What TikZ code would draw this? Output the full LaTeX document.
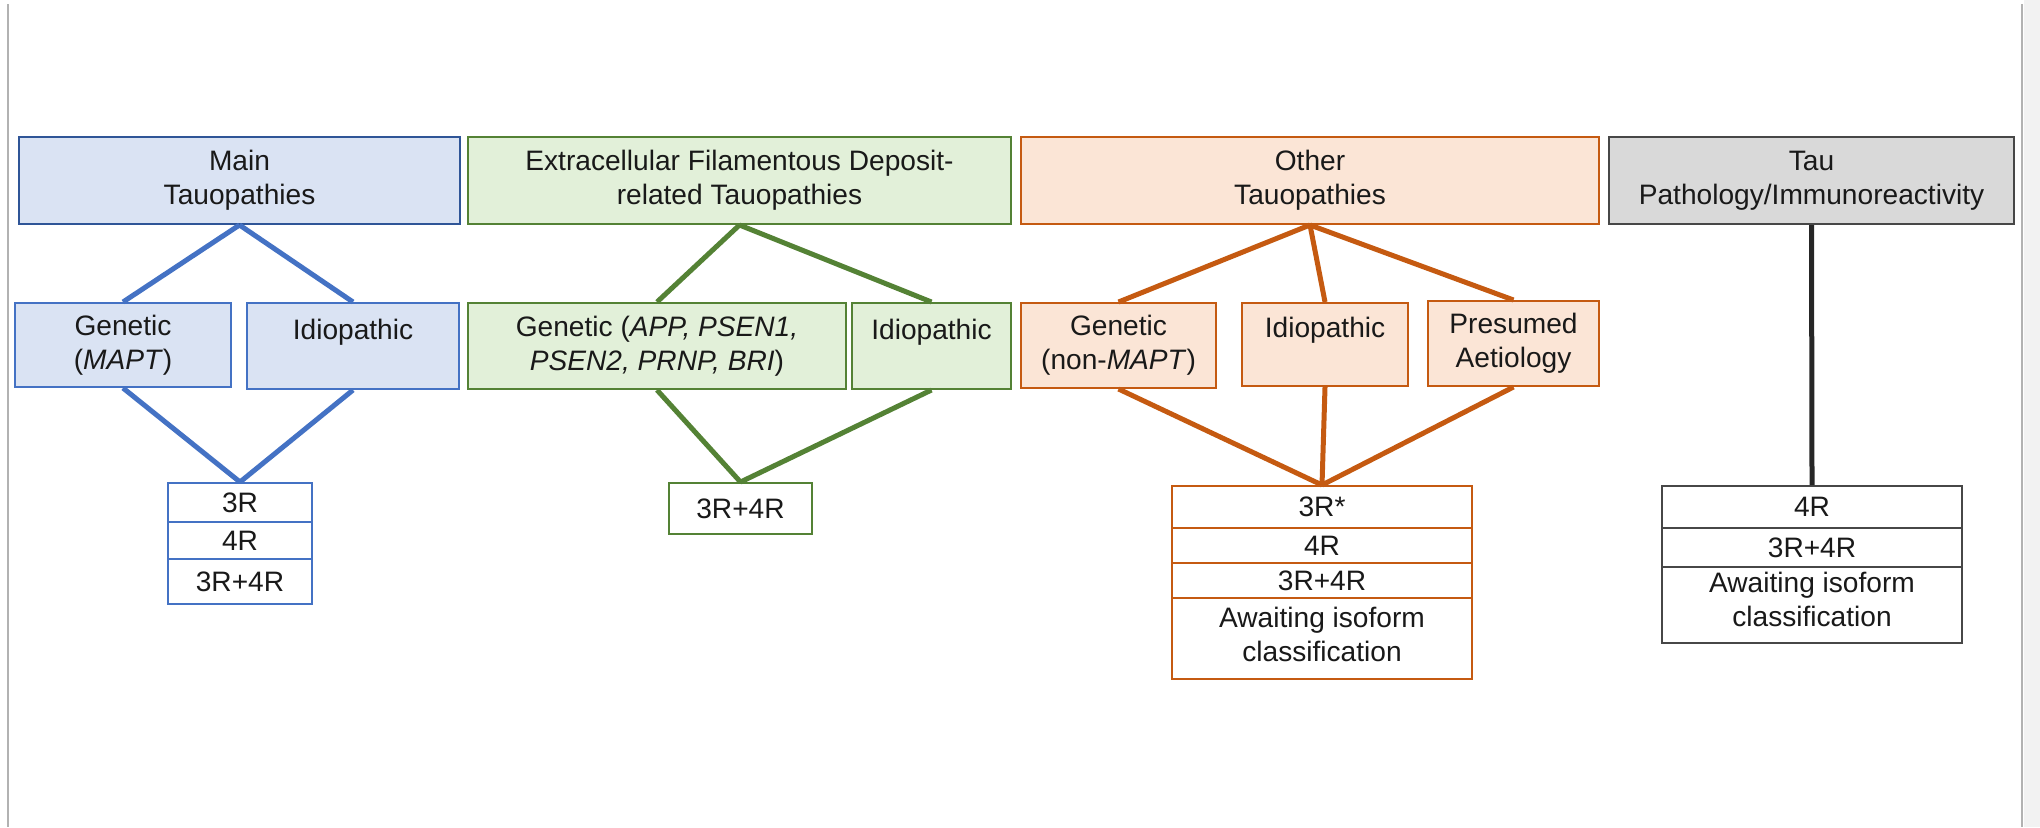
\documentclass[tikz,border=0pt]{standalone}
\usepackage{fontspec}
\setmainfont{Liberation Sans}
\definecolor{bluefill}{HTML}{DAE3F3}
\definecolor{blueedge}{HTML}{2F5597}
\definecolor{blueline}{HTML}{4472C4}
\definecolor{greenfill}{HTML}{E2F0D9}
\definecolor{greenline}{HTML}{548235}
\definecolor{orangefill}{HTML}{FBE5D6}
\definecolor{orangeline}{HTML}{C55A11}
\definecolor{greyfill}{HTML}{D9D9D9}
\definecolor{greyline}{HTML}{262626}

\begin{document}
\begin{tikzpicture}[x=0.1mm, y=-0.1mm,
  every node/.style={font=\fontsize{8}{9.7}\selectfont, align=center, inner sep=0pt, text=black!90},
  catbox/.style={draw, line width=0.2mm},
  isorow/.style={draw, fill=white, line width=0.2mm},
  link/.style={line width=0.5mm}]
\useasboundingbox (0,0) rectangle (2040,827);
%page edges
\fill[black!5] (2024,0) rectangle (2040,827);
\draw[black!30, line width=0.15mm] (8,4) -- (8,827);
\draw[black!30, line width=0.15mm] (2022,4) -- (2022,827);

%main tauopathies
\node[catbox, draw=blueedge, fill=bluefill, minimum width=44.1mm, minimum height=8.7mm] (bMain) at (239.5,180.5) {Main\\Tauopathies};
\node[catbox, draw=blueline, fill=bluefill, minimum width=21.6mm, minimum height=8.4mm] (bGen) at (123,345) {Genetic\\(\textit{MAPT})};
\node[catbox, draw=blueline, fill=bluefill, minimum width=21.2mm, minimum height=8.6mm] (bIdio) at (353,346) {Idiopathic\\\mbox{}};
\node[isorow, draw=blueline, minimum width=14.4mm, minimum height=3.9mm] (bIso1) at (240,502.5) {3R};
\node[isorow, draw=blueline, minimum width=14.4mm, minimum height=3.7mm] (bIso2) at (240,540.5) {4R};
\node[isorow, draw=blueline, minimum width=14.4mm, minimum height=4.5mm] (bIso3) at (240,581.5) {3R+4R};

%extracellular deposits
\node[catbox, draw=greenline, fill=greenfill, minimum width=54.3mm, minimum height=8.7mm] (gMain) at (739.5,180.5) {Extracellular Filamentous Deposit-\\related Tauopathies};
\node[catbox, draw=greenline, fill=greenfill, minimum width=37.8mm, minimum height=8.6mm] (gGen) at (657,346) {Genetic (\textit{APP, PSEN1,}\\\textit{PSEN2, PRNP, BRI})};
\node[catbox, draw=greenline, fill=greenfill, minimum width=15.9mm, minimum height=8.6mm] (gIdio) at (931.5,346) {Idiopathic\\\mbox{}};
\node[isorow, draw=greenline, minimum width=14.3mm, minimum height=5.1mm] (gIso) at (740.5,508.5) {3R+4R};

%other tauopathies
\node[catbox, draw=orangeline, fill=orangefill, minimum width=57.8mm, minimum height=8.7mm] (oMain) at (1310,180.5) {Other\\Tauopathies};
\node[catbox, draw=orangeline, fill=orangefill, minimum width=19.5mm, minimum height=8.5mm] (oGen) at (1118.5,345.5) {Genetic\\(non-\textit{MAPT})};
\node[catbox, draw=orangeline, fill=orangefill, minimum width=16.6mm, minimum height=8.3mm] (oIdio) at (1325,344.5) {Idiopathic\\\mbox{}};
\node[catbox, draw=orangeline, fill=orangefill, minimum width=17.1mm, minimum height=8.5mm] (oPres) at (1513.5,343.5) {Presumed\\Aetiology};
\node[isorow, draw=orangeline, minimum width=30mm, minimum height=4.2mm] (oIso1) at (1322,507) {3R*};
\node[isorow, draw=orangeline, minimum width=30mm, minimum height=3.5mm] (oIso2) at (1322,545.5) {4R};
\node[isorow, draw=orangeline, minimum width=30mm, minimum height=3.5mm] (oIso3) at (1322,580.5) {3R+4R};
\node[isorow, draw=orangeline, minimum width=30mm, minimum height=8.1mm] (oIso4) at (1322,638.5) {Awaiting isoform\\classification\rule[-0.8mm]{0pt}{0.8mm}};

%tau pathology
\node[catbox, draw=greyline!85, fill=greyfill, minimum width=40.5mm, minimum height=8.7mm] (kMain) at (1811.5,180.5) {Tau\\Pathology/Immunoreactivity};
\node[isorow, draw=greyline!85, minimum width=30mm, minimum height=4.2mm] (kIso1) at (1812,507) {4R};
\node[isorow, draw=greyline!85, minimum width=30mm, minimum height=3.9mm] (kIso2) at (1812,547.5) {3R+4R};
\node[isorow, draw=greyline!85, minimum width=30mm, minimum height=7.6mm] (kIso3) at (1812,605) {Awaiting isoform\\classification\rule[-1.1mm]{0pt}{1.1mm}};

%connectors
\foreach \c in {bGen,bIdio} {\draw[link, blueline] (bMain.south) -- (\c.north) (\c.south) -- (bIso1.north);}
\foreach \c in {gGen,gIdio} {\draw[link, greenline] (gMain.south) -- (\c.north) (\c.south) -- (gIso.north);}
\foreach \c in {oGen,oIdio,oPres} {\draw[link, orangeline] (oMain.south) -- (\c.north) (\c.south) -- (oIso1.north);}
\draw[link, greyline] (kMain.south) -- (kIso1.north);

\end{tikzpicture}
\end{document}
